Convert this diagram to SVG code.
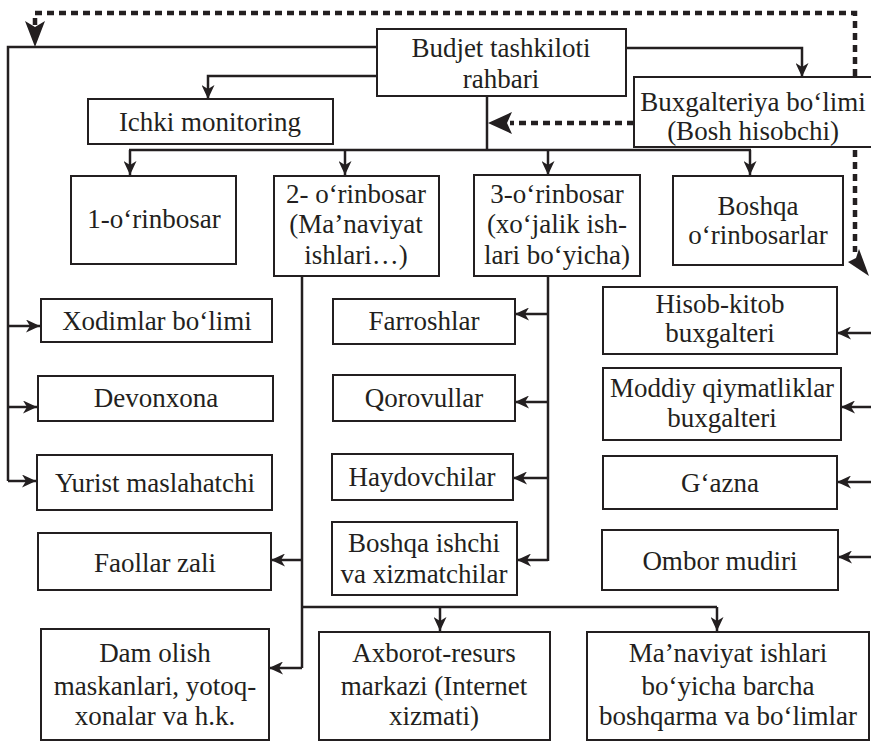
<svg xmlns="http://www.w3.org/2000/svg" width="871" height="741" viewBox="0 0 871 741">
<style>
.box{fill:#fff;stroke:#231f20;stroke-width:2}
.t{font-family:"Liberation Serif","Times New Roman",serif;font-size:27px;fill:#231f20;text-anchor:middle}
.c{fill:none;stroke:#231f20;stroke-width:2.5}
.ca{fill:none;stroke:#231f20;stroke-width:2.5;marker-end:url(#ah)}
.d{fill:none;stroke:#231f20;stroke-width:4.5;stroke-dasharray:7 5}
</style>
<defs>
<marker id="ah" markerUnits="userSpaceOnUse" markerWidth="15" markerHeight="13" refX="14" refY="6.5" orient="auto">
<path d="M0,0 L14,6.5 L0,13 L4,6.5 z" fill="#231f20"/>
</marker>
</defs>
<g id="connectors">
<path class="c" d="M377,47 H8 V481"/>
<path class="ca" d="M8,481 H36"/>
<path class="ca" d="M8,326 H40"/>
<path class="ca" d="M8,407 H37"/>
<path class="ca" d="M377,76 H208 V99"/>
<path class="c" d="M487,97 V150"/>
<path class="c" d="M129,150 H751"/>
<path class="ca" d="M130,150 V175"/>
<path class="ca" d="M345,150 V175"/>
<path class="ca" d="M548,150 V175"/>
<path class="ca" d="M750,150 V175"/>
<path class="ca" d="M626,48 H802 V77"/>
<path class="c" d="M548,276 V561"/>
<path class="ca" d="M548,314 H515"/>
<path class="ca" d="M548,402 H515"/>
<path class="ca" d="M548,478 H513"/>
<path class="ca" d="M548,560 H517"/>
<path class="c" d="M302,276 V668"/>
<path class="ca" d="M302,668 H269"/>
<path class="ca" d="M302,560 H271"/>
<path class="c" d="M302,607 H717"/>
<path class="ca" d="M440,607 V631"/>
<path class="ca" d="M717,607 V631"/>
<path class="ca" d="M872,333 H837"/>
<path class="ca" d="M872,407 H841"/>
<path class="ca" d="M872,482 H837"/>
<path class="ca" d="M872,557 H838"/>
<path class="d" d="M634,123 H510"/>
<path d="M488,123 L512,112 L507,123 L512,134 z" fill="#231f20"/>
<path class="d" d="M855,76 V13 H35 V26"/>
<path d="M35,47 L25,21 L35,27 L45,21 z" fill="#231f20"/>
<path class="d" d="M855,150 V252"/>
<path d="M869,276 L848,262 L856,258 L859,249 z" fill="#231f20"/>
</g>
<g id="budjet"><rect class="box" x="377" y="29" width="249" height="67"/>
<text class="t" x="501" y="57">Budjet tashkiloti</text><text class="t" x="501" y="88">rahbari</text></g>
<g id="ichki"><rect class="box" x="88" y="99" width="245" height="45"/>
<text class="t" x="210" y="131">Ichki monitoring</text></g>
<g id="buxgalteriya"><rect class="box" x="634" y="77" width="250" height="70"/>
<text class="t" x="753" y="111">Buxgalteriya bo‘limi</text><text class="t" x="753" y="140">(Bosh hisobchi)</text></g>
<g id="orinbosar1"><rect class="box" x="71" y="176" width="165" height="88"/>
<text class="t" x="154" y="228">1-o‘rinbosar</text></g>
<g id="orinbosar2"><rect class="box" x="274" y="176" width="165" height="100"/>
<text class="t" x="356" y="203">2- o‘rinbosar</text><text class="t" x="356" y="233">(Ma’naviyat</text><text class="t" x="356" y="264">ishlari…)</text></g>
<g id="orinbosar3"><rect class="box" x="474" y="175" width="166" height="101"/>
<text class="t" x="557" y="203">3-o‘rinbosar</text><text class="t" x="557" y="233">(xo‘jalik ish-</text><text class="t" x="557" y="264">lari bo‘yicha)</text></g>
<g id="boshqa-orinbosarlar"><rect class="box" x="673" y="176" width="170" height="89"/>
<text class="t" x="758" y="215">Boshqa</text><text class="t" x="758" y="244">o‘rinbosarlar</text></g>
<g id="xodimlar"><rect class="box" x="41" y="299" width="231" height="43"/>
<text class="t" x="157" y="330">Xodimlar bo‘limi</text></g>
<g id="devonxona"><rect class="box" x="38" y="376" width="235" height="45"/>
<text class="t" x="156" y="407">Devonxona</text></g>
<g id="yurist"><rect class="box" x="37" y="455" width="235" height="55"/>
<text class="t" x="155" y="492">Yurist maslahatchi</text></g>
<g id="faollar"><rect class="box" x="38" y="533" width="233" height="57"/>
<text class="t" x="155" y="572">Faollar zali</text></g>
<g id="dam-olish"><rect class="box" x="41" y="629" width="228" height="111"/>
<text class="t" x="155" y="662">Dam olish</text><text class="t" x="155" y="695">maskanlari, yotoq-</text><text class="t" x="155" y="725">xonalar va h.k.</text></g>
<g id="farroshlar"><rect class="box" x="333" y="299" width="182" height="45"/>
<text class="t" x="424" y="330">Farroshlar</text></g>
<g id="qorovullar"><rect class="box" x="333" y="375" width="182" height="46"/>
<text class="t" x="424" y="407">Qorovullar</text></g>
<g id="haydovchilar"><rect class="box" x="332" y="454" width="181" height="46"/>
<text class="t" x="422" y="486">Haydovchilar</text></g>
<g id="boshqa-ishchi"><rect class="box" x="332" y="522" width="185" height="73"/>
<text class="t" x="424" y="552">Boshqa ishchi</text><text class="t" x="424" y="583">va xizmatchilar</text></g>
<g id="axborot"><rect class="box" x="319" y="632" width="231" height="108"/>
<text class="t" x="434" y="662">Axborot-resurs</text><text class="t" x="434" y="695">markazi (Internet</text><text class="t" x="434" y="725">xizmati)</text></g>
<g id="hisob-kitob"><rect class="box" x="603" y="287" width="234" height="67"/>
<text class="t" x="720" y="313">Hisob-kitob</text><text class="t" x="720" y="342">buxgalteri</text></g>
<g id="moddiy"><rect class="box" x="603" y="368" width="238" height="72"/>
<text class="t" x="722" y="397">Moddiy qiymatliklar</text><text class="t" x="722" y="427">buxgalteri</text></g>
<g id="gazna"><rect class="box" x="603" y="456" width="234" height="53"/>
<text class="t" x="720" y="492">G‘azna</text></g>
<g id="ombor"><rect class="box" x="602" y="530" width="236" height="60"/>
<text class="t" x="720" y="570">Ombor mudiri</text></g>
<g id="manaviyat"><rect class="box" x="587" y="632" width="282" height="108"/>
<text class="t" x="728" y="662">Ma’naviyat ishlari</text><text class="t" x="728" y="695">bo‘yicha barcha</text><text class="t" x="728" y="725">boshqarma va bo‘limlar</text></g>
</svg>
